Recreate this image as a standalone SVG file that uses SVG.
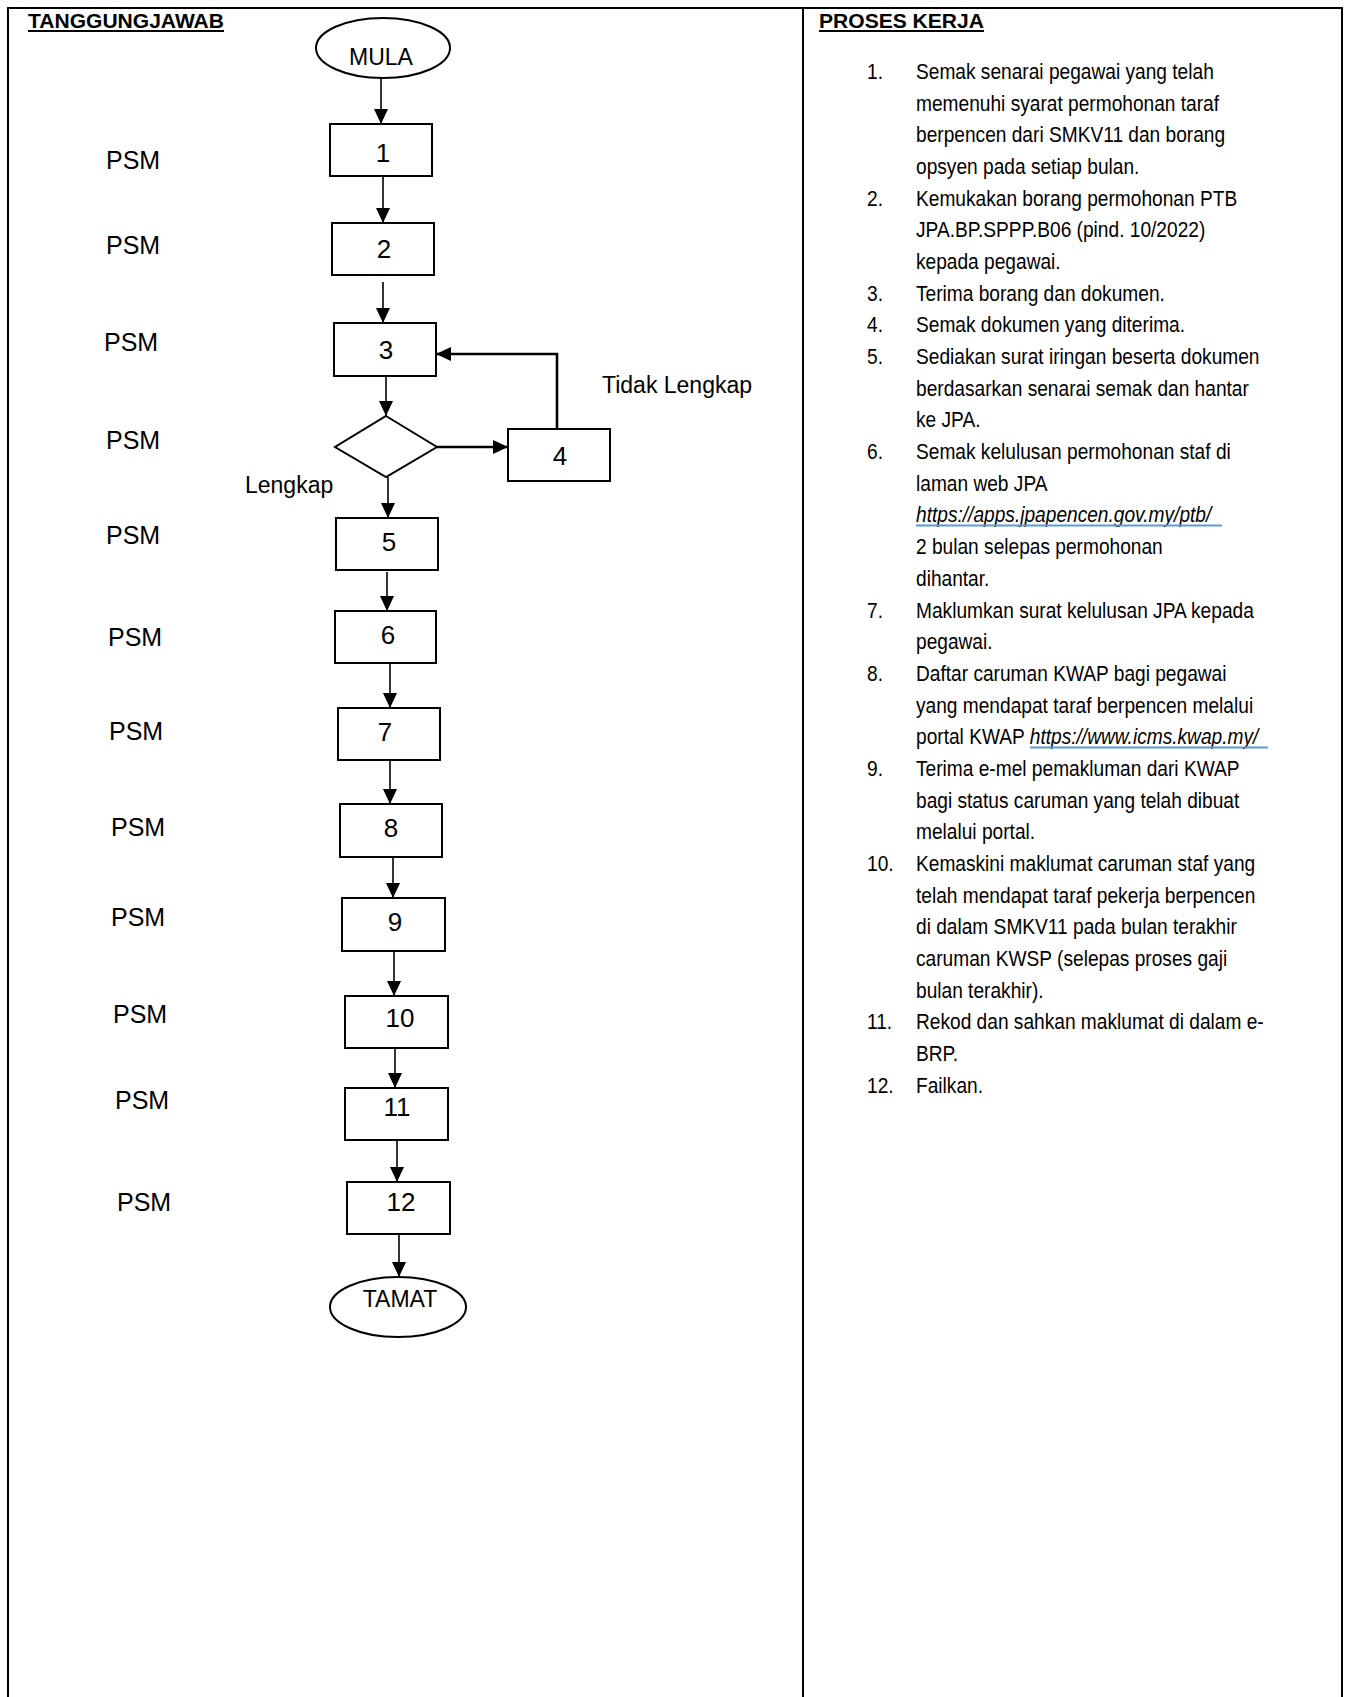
<svg xmlns="http://www.w3.org/2000/svg" width="1347" height="1697" viewBox="0 0 1347 1697">
<style>
.frame{fill:none;stroke:#000;stroke-width:2}
.box{fill:#fff;stroke:#000;stroke-width:2}
.ln{fill:none;stroke:#000;stroke-width:1.6}
.thk{fill:none;stroke:#000;stroke-width:2.6}
.hd{font-family:"Liberation Sans",Arial,sans-serif;font-weight:bold;font-size:20px;fill:#000}
.psm{font-family:"Liberation Sans",Arial,sans-serif;font-size:25px;fill:#000}
.num{font-family:"Liberation Sans",Arial,sans-serif;font-size:26px;fill:#000;text-anchor:middle}
.lbl{font-family:"Liberation Sans",Arial,sans-serif;font-size:23px;fill:#000}
.body{font-family:"Liberation Sans",Arial,sans-serif;font-size:22px;fill:#000}
.link{font-style:italic}
.ul{stroke:#5B9BD5;stroke-width:2}
</style>
<defs>
<marker id="ah" markerUnits="userSpaceOnUse" markerWidth="15" markerHeight="14" refX="15" refY="7" orient="auto">
<path d="M0,0 L15,7 L0,14 Z" fill="#000"/>
</marker>
</defs>
<rect x="0" y="0" width="1347" height="1697" fill="#fff"/>
<g id="table">
<path class="frame" d="M8,1697 V8 H1342 V1697"/>
<path class="frame" d="M803,8 V1697"/>
<text class="hd" x="28" y="27.5" textLength="196" lengthAdjust="spacingAndGlyphs">TANGGUNGJAWAB</text>
<line x1="28" y1="31" x2="224" y2="31" stroke="#000" stroke-width="2"/>
<text class="hd" x="819" y="27.5" textLength="165" lengthAdjust="spacingAndGlyphs">PROSES KERJA</text>
<line x1="819" y1="31" x2="984" y2="31" stroke="#000" stroke-width="2"/>
</g>
<g id="responsibility">
<text class="psm" x="106" y="169">PSM</text>
<text class="psm" x="106" y="254">PSM</text>
<text class="psm" x="104" y="351">PSM</text>
<text class="psm" x="106" y="449">PSM</text>
<text class="psm" x="106" y="544">PSM</text>
<text class="psm" x="108" y="646">PSM</text>
<text class="psm" x="109" y="740">PSM</text>
<text class="psm" x="111" y="836">PSM</text>
<text class="psm" x="111" y="926">PSM</text>
<text class="psm" x="113" y="1023">PSM</text>
<text class="psm" x="115" y="1109">PSM</text>
<text class="psm" x="117" y="1211">PSM</text>
</g>
<g id="connectors">
<path class="ln" d="M381,78 V124" marker-end="url(#ah)"/>
<path class="ln" d="M383,177 V223" marker-end="url(#ah)"/>
<path class="ln" d="M383,282 V323" marker-end="url(#ah)"/>
<path class="ln" d="M386,376 V416" marker-end="url(#ah)"/>
<path class="thk" d="M437,447 H508" marker-end="url(#ah)"/>
<path class="thk" d="M557,429 V354 H436" marker-end="url(#ah)"/>
<path class="ln" d="M388,477 V518" marker-end="url(#ah)"/>
<path class="ln" d="M387,572 V611" marker-end="url(#ah)"/>
<path class="ln" d="M390,663 V708" marker-end="url(#ah)"/>
<path class="ln" d="M390,760 V804" marker-end="url(#ah)"/>
<path class="ln" d="M393,858 V898" marker-end="url(#ah)"/>
<path class="ln" d="M394,951 V996" marker-end="url(#ah)"/>
<path class="ln" d="M395,1048 V1088" marker-end="url(#ah)"/>
<path class="ln" d="M397,1140 V1182" marker-end="url(#ah)"/>
<path class="ln" d="M399,1234 V1277" marker-end="url(#ah)"/>
<text class="lbl" x="602" y="393">Tidak Lengkap</text>
<text class="lbl" x="245" y="493">Lengkap</text>
</g>
<g id="mula"><ellipse class="box" cx="383" cy="48" rx="67" ry="30"/><text class="lbl" x="381" y="65" text-anchor="middle">MULA</text></g>
<g id="n1"><rect class="box" x="330" y="124" width="102" height="52"/><text class="num" x="383" y="162">1</text></g>
<g id="n2"><rect class="box" x="332" y="223" width="102" height="52"/><text class="num" x="384" y="258">2</text></g>
<g id="n3"><rect class="box" x="334" y="323" width="102" height="53"/><text class="num" x="386" y="359">3</text></g>
<g id="decision"><polygon class="box" points="386,416 437,447 386,477 335,447"/></g>
<g id="n4"><rect class="box" x="508" y="429" width="102" height="52"/><text class="num" x="560" y="465">4</text></g>
<g id="n5"><rect class="box" x="336" y="518" width="102" height="52"/><text class="num" x="389" y="551">5</text></g>
<g id="n6"><rect class="box" x="335" y="611" width="101" height="52"/><text class="num" x="388" y="644">6</text></g>
<g id="n7"><rect class="box" x="338" y="708" width="102" height="52"/><text class="num" x="385" y="741">7</text></g>
<g id="n8"><rect class="box" x="340" y="804" width="102" height="53"/><text class="num" x="391" y="837">8</text></g>
<g id="n9"><rect class="box" x="342" y="898" width="103" height="53"/><text class="num" x="395" y="931">9</text></g>
<g id="n10"><rect class="box" x="345" y="996" width="103" height="52"/><text class="num" x="400" y="1027">10</text></g>
<g id="n11"><rect class="box" x="345" y="1088" width="103" height="52"/><text class="num" x="397" y="1116">11</text></g>
<g id="n12"><rect class="box" x="347" y="1182" width="103" height="52"/><text class="num" x="401" y="1211">12</text></g>
<g id="tamat"><ellipse class="box" cx="398" cy="1307" rx="68" ry="30"/><text class="lbl" x="400" y="1307" text-anchor="middle">TAMAT</text></g>
<g id="process">
<g transform="translate(867,0) scale(0.87,1)" class="body">
<text x="0" y="79">1.</text>
<text x="0" y="205.7">2.</text>
<text x="0" y="300.8">3.</text>
<text x="0" y="332.4">4.</text>
<text x="0" y="364.1">5.</text>
<text x="0" y="459.2">6.</text>
<text x="0" y="617.6">7.</text>
<text x="0" y="680.9">8.</text>
<text x="0" y="775.9">9.</text>
<text x="0" y="871">10.</text>
<text x="0" y="1029.4">11.</text>
<text x="0" y="1092.8">12.</text>
</g>
<g transform="translate(916,0) scale(0.87,1)" class="body">
<text x="0" y="79">Semak senarai pegawai yang telah</text>
<text x="0" y="110.7">memenuhi syarat permohonan taraf</text>
<text x="0" y="142.4">berpencen dari SMKV11 dan borang</text>
<text x="0" y="174">opsyen pada setiap bulan.</text>
<text x="0" y="205.7">Kemukakan borang permohonan PTB</text>
<text x="0" y="237.4">JPA.BP.SPPP.B06 (pind. 10/2022)</text>
<text x="0" y="269.1">kepada pegawai.</text>
<text x="0" y="300.8">Terima borang dan dokumen.</text>
<text x="0" y="332.4">Semak dokumen yang diterima.</text>
<text x="0" y="364.1">Sediakan surat iringan beserta dokumen</text>
<text x="0" y="395.8">berdasarkan senarai semak dan hantar</text>
<text x="0" y="427.5">ke JPA.</text>
<text x="0" y="459.2">Semak kelulusan permohonan staf di</text>
<text x="0" y="490.8">laman web JPA</text>
<text x="0" y="522.5" class="link">https://apps.jpapencen.gov.my/ptb/</text>
<text x="0" y="554.2">2 bulan selepas permohonan</text>
<text x="0" y="585.9">dihantar.</text>
<text x="0" y="617.6">Maklumkan surat kelulusan JPA kepada</text>
<text x="0" y="649.2">pegawai.</text>
<text x="0" y="680.9">Daftar caruman KWAP bagi pegawai</text>
<text x="0" y="712.6">yang mendapat taraf berpencen melalui</text>
<text x="0" y="744.3">portal KWAP <tspan class="link">https://www.icms.kwap.my/</tspan></text>
<text x="0" y="775.9">Terima e-mel pemakluman dari KWAP</text>
<text x="0" y="807.6">bagi status caruman yang telah dibuat</text>
<text x="0" y="839.3">melalui portal.</text>
<text x="0" y="871">Kemaskini maklumat caruman staf yang</text>
<text x="0" y="902.7">telah mendapat taraf pekerja berpencen</text>
<text x="0" y="934.3">di dalam SMKV11 pada bulan terakhir</text>
<text x="0" y="966">caruman KWSP (selepas proses gaji</text>
<text x="0" y="997.7">bulan terakhir).</text>
<text x="0" y="1029.4">Rekod dan sahkan maklumat di dalam e-</text>
<text x="0" y="1061.1">BRP.</text>
<text x="0" y="1092.8">Failkan.</text>
</g>
<line class="ul" x1="916" y1="525.5" x2="1222" y2="525.5"/>
<line class="ul" x1="1030" y1="747.5" x2="1268" y2="747.5"/>
</g>
</svg>
